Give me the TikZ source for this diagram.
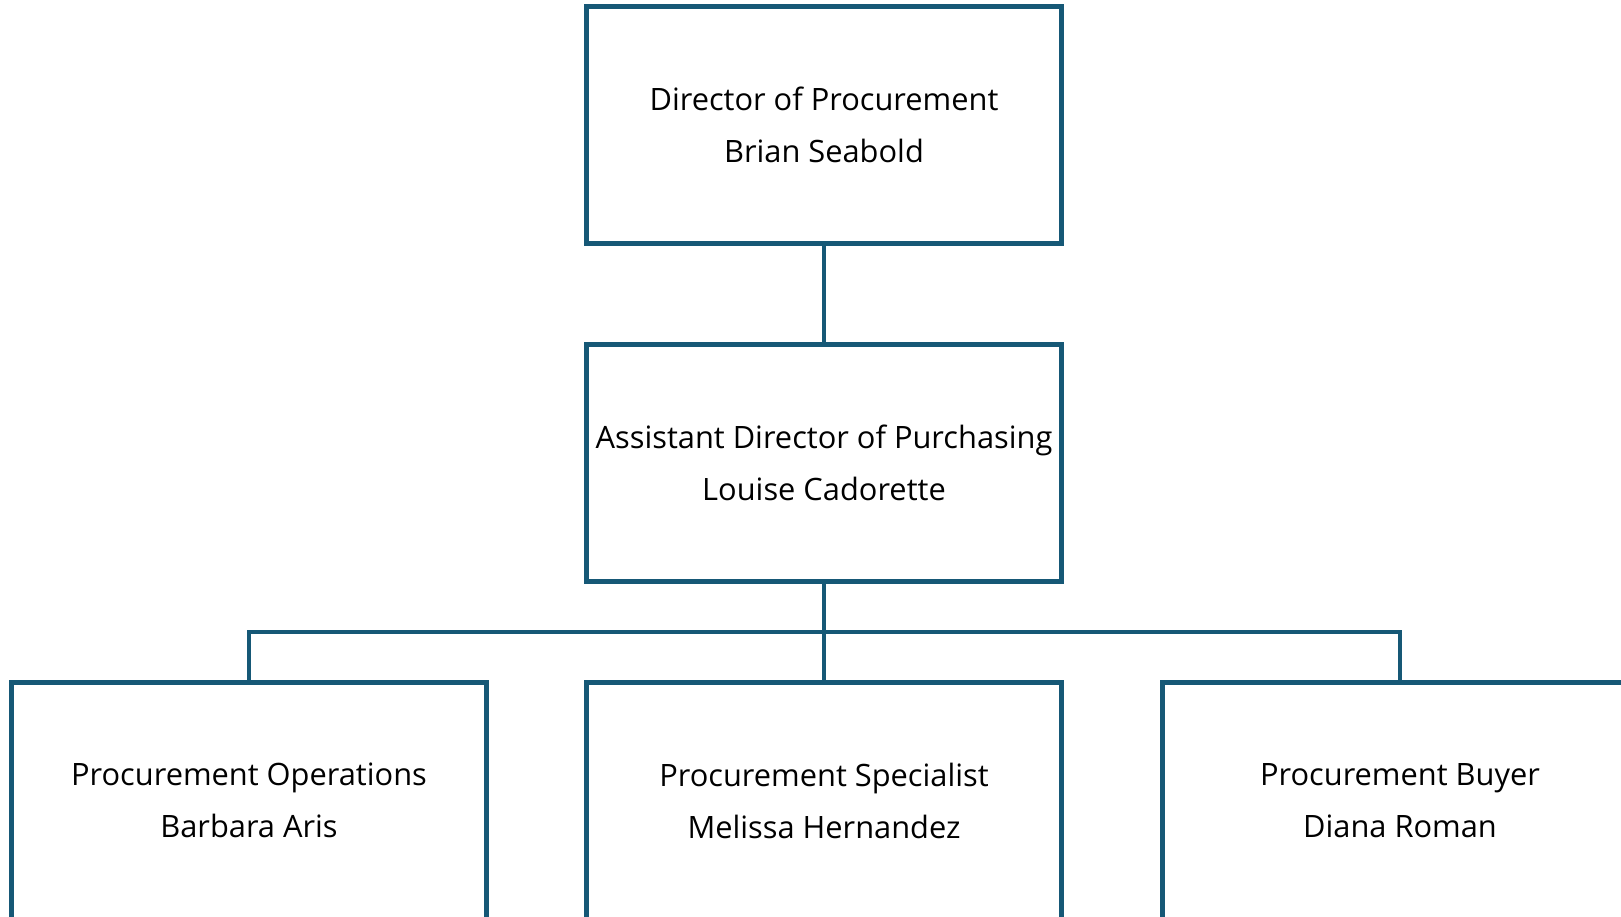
\documentclass[tikz,border=0pt]{standalone}
\usepackage{fontspec}
\setmainfont{Open Sans}
\definecolor{boxblue}{RGB}{22,88,118}
\begin{document}
\begin{tikzpicture}[x=1pt,y=-1pt,
  card/.style={draw=boxblue, line width=5pt, minimum width=475pt, minimum height=237pt,
    align=center, inner sep=0pt, text=black, font=\fontsize{30.8}{52}\selectfont,
    execute at begin node=\vphantom{l}},
  link/.style={draw=boxblue, line width=4pt}]
\useasboundingbox (0,0) rectangle (1621,916);
\clip (0,0) rectangle (1621,916);
\node[card] (dir)  at (824,125)   {Director of Procurement\\Brian Seabold};
\node[card] (asst) at (824,463)   {Assistant Director of Purchasing\\Louise Cadorette};
\node[card] (ops)  at (249,800.5) {Procurement Operations\\Barbara Aris};
\node[card] (spec) at (824,800.5) {Procurement Specialist\\Melissa Hernandez};
\node[card] (buy)  at (1400,800.5){Procurement Buyer\\Diana Roman};
\coordinate (bus) at (824,632);
\draw[link] (dir.south) -- (asst.north);
\draw[link] (asst.south) -- (spec.north);
\draw[link] (ops.north) -- (ops.north |- bus) -- (buy.north |- bus) -- (buy.north);
\end{tikzpicture}
\end{document}
